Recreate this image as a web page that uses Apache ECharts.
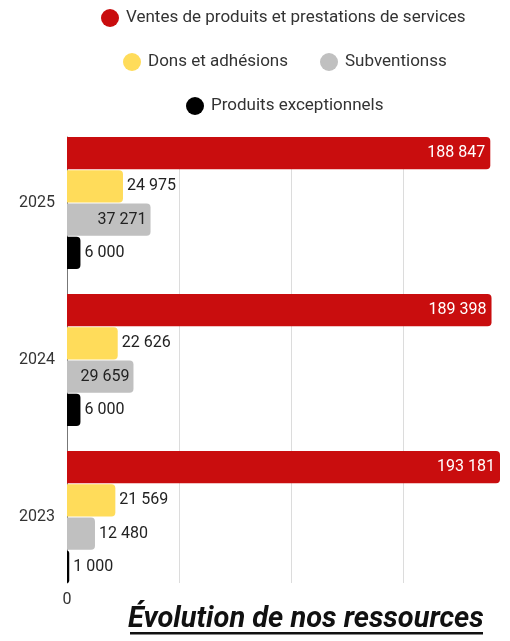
<!DOCTYPE html>
<html><head><meta charset="utf-8">
<script src="https://cdn.jsdelivr.net/npm/echarts@6/dist/echarts.min.js"></script>
<style>html,body{margin:0;padding:0;background:#fff}#c{width:510px;height:641px}</style>
</head><body><div id="c"></div>
<script>
const years = ['2023', '2024', '2025'];
const seriesNames = ['Ventes de produits et prestations de services', 'Dons et adhésions', 'Subventionss', 'Produits exceptionnels'];
const ventes = [193181, 189398, 188847];
const dons = [21569, 22626, 24975];
const subventions = [12480, 29659, 37271];
const exceptionnels = [1000, 6000, 6000];
const subvLabelInside = [false, true, true];
const titleText = 'Évolution de nos ressources';

const FONT = 'Roboto';
const fmt = v => String(v).replace(/\B(?=(\d{3})+(?!\d))/g, ' ');
const maxVal = Math.max(...ventes, ...dons, ...subventions, ...exceptionnels);

function mk(name, values, color, labelOpt, insideFlags) {
  return {
    name, type: 'bar', xAxisIndex: 0, yAxisIndex: 0,
    data: values.map((v, i) => {
      const d = { value: v };
      if (insideFlags && insideFlags[i]) d.label = { position: 'insideRight', color: '#222' };
      return d;
    }),
    itemStyle: { color, borderRadius: [0, 4, 4, 0] },
    barGap: '3%', barCategoryGap: '16%',
    label: Object.assign({ show: true, fontFamily: FONT, fontSize: 16, formatter: p => fmt(p.value) }, labelOpt)
  };
}

const chart = echarts.init(document.getElementById('c'));
const legendText = { fontFamily: FONT, fontSize: 17, color: '#333' };
const lg = { icon: 'circle', itemWidth: 22, itemHeight: 18, itemGap: 32, textStyle: legendText, padding: 0 };
chart.setOption({
  animation: false,
  legend: [
    Object.assign({ data: [seriesNames[0]], top: 9, left: 101 }, lg),
    Object.assign({ data: [seriesNames[1], seriesNames[2]], top: 53, left: 123 }, lg),
    Object.assign({ data: [seriesNames[3]], top: 97, left: 186 }, lg)
  ],
  grid: [
    { left: 67, right: 10, top: 124.5, bottom: 45.5 },
    { left: 67, right: 10, top: 137, bottom: 58 }
  ],
  xAxis: [
    { type: 'value', gridIndex: 0, min: 0, max: maxVal, show: false },
    {
      type: 'value', gridIndex: 1, min: 0, max: maxVal, interval: 50000,
      axisLine: { show: false }, axisTick: { show: false },
      splitLine: { show: true, showMinLine: false, showMaxLine: false, lineStyle: { color: '#dcdcdc', width: 1 } },
      axisLabel: { fontFamily: FONT, fontSize: 16, color: '#333', margin: 9, formatter: v => v === 0 ? '0' : '' }
    }
  ],
  yAxis: [
    {
      type: 'category', gridIndex: 0, data: years,
      axisLine: { show: false }, axisTick: { show: false },
      axisLabel: { fontFamily: FONT, fontSize: 16, color: '#333', margin: 12 }
    },
    {
      type: 'value', gridIndex: 1, min: 0, max: 1,
      axisLine: { show: true, onZero: false, lineStyle: { color: '#777', width: 1 } },
      axisTick: { show: false }, axisLabel: { show: false }, splitLine: { show: false }
    }
  ],
  series: [
    mk(seriesNames[0], ventes, '#C90D0E', { position: 'insideRight', color: '#fff' }),
    mk(seriesNames[1], dons, '#FFDC5A', { position: 'right', color: '#222', distance: 4 }),
    mk(seriesNames[2], subventions, '#C0C0C0', { position: 'right', color: '#222', distance: 4 }, subvLabelInside),
    mk(seriesNames[3], exceptionnels, '#000000', { position: 'right', color: '#222', distance: 4 })
  ],
  title: {
    text: titleText, left: 128, top: 605, padding: 0,
    textStyle: { fontFamily: FONT, fontSize: 29, fontWeight: 'bold', fontStyle: 'italic', color: '#111' }
  },
  graphic: [{ type: 'rect', left: 130, top: 632, shape: { width: 353, height: 2.5 }, style: { fill: '#111' } }]
});
</script></body></html>
